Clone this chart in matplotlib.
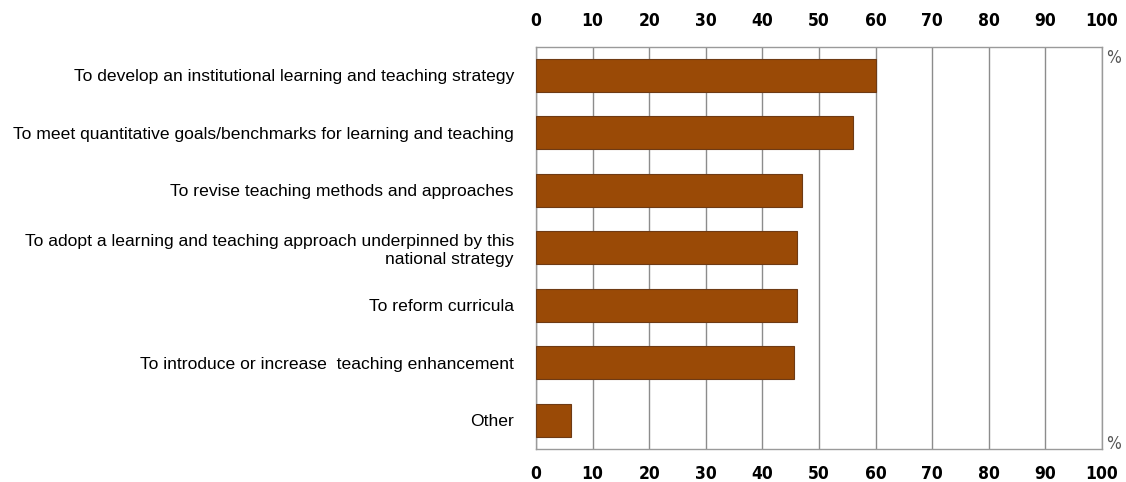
import matplotlib
matplotlib.use("Agg")
import matplotlib.pyplot as plt
from matplotlib import font_manager
from matplotlib.font_manager import FontProperties

categories = [
    "To develop an institutional learning and teaching strategy",
    "To meet quantitative goals/benchmarks for learning and teaching",
    "To revise teaching methods and approaches",
    "To adopt a learning and teaching approach underpinned by this\nnational strategy",
    "To reform curricula",
    "To introduce or increase  teaching enhancement",
    "Other",
]
values = [60, 56, 47, 46.1, 46.1, 45.6, 6.1]
xticks = [0, 10, 20, 30, 40, 50, 60, 70, 80, 90, 100]


def find_font(keys):
    for k in keys:
        for f in font_manager.fontManager.ttflist:
            if k.lower() in f.fname.lower():
                return f.fname
    return None


bold_narrow = find_font(["LiberationSansNarrow-Bold.", "SansNarrow-Bold", "DejaVuSansCondensed-Bold.",
                         "Condensed-Bold.", "Narrow-Bold"])
reg_narrow = find_font(["LiberationSansNarrow-Regular", "DejaVuSansCondensed.", "Condensed-Regular",
                        "Narrow-Regular"])
if bold_narrow:
    tick_fp = FontProperties(fname=bold_narrow, size=12.5)
else:
    tick_fp = FontProperties(family="DejaVu Sans", weight="bold", size=11)
if reg_narrow:
    pct_fp = FontProperties(fname=reg_narrow, size=12.5)
else:
    pct_fp = FontProperties(family="DejaVu Sans", size=11)

plt.rcParams["font.family"] = ["Liberation Sans", "DejaVu Sans"]

fig = plt.figure(figsize=(11.26, 4.82), dpi=100)
ax = fig.add_axes([0.476, 0.069, 0.9787 - 0.476, 0.9031 - 0.069])

ypos = list(range(len(categories)))
ax.barh(ypos, values, height=0.575, color="#9A4A06", edgecolor="#6E3A14",
        linewidth=0.8, zorder=3)
ax.set_ylim(len(categories) - 0.5, -0.5)
ax.set_xlim(0, 100)
ax.set_xticks(xticks)
ax.set_xticklabels([str(t) for t in xticks])
ax.tick_params(axis="x", which="both", top=True, labeltop=True, bottom=True,
               labelbottom=True, length=0, pad=12)
for t in ax.xaxis.get_major_ticks():
    t.label1.set_fontproperties(tick_fp)
    t.label2.set_fontproperties(tick_fp)
ax.set_yticks(ypos)
ax.set_yticklabels(categories, fontsize=12.6)
ax.tick_params(axis="y", length=0, pad=16)
for lab in ax.get_yticklabels():
    lab.set_horizontalalignment("right")
    lab.set_multialignment("right")

ax.grid(axis="x", color="#8c8c8c", linewidth=1.0, zorder=0)
ax.grid(axis="y", visible=False)
for s in ax.spines.values():
    s.set_color("#9a9a9a")
    s.set_linewidth(1.0)

ax.text(1.021, 0.972, "%", transform=ax.transAxes, fontproperties=pct_fp,
        color="#555555", ha="center", va="center")
ax.text(1.021, 0.013, "%", transform=ax.transAxes, fontproperties=pct_fp,
        color="#555555", ha="center", va="center")

fig.savefig("out.png", dpi=100)
